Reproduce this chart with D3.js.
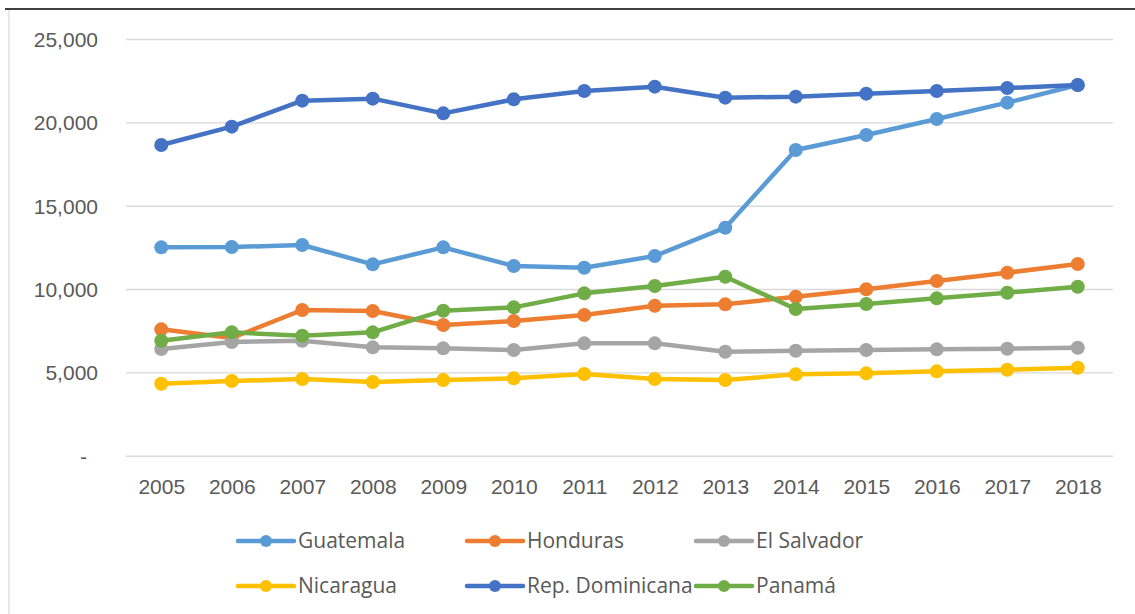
<!DOCTYPE html>
<html>
<head>
<meta charset="utf-8">
<script src="https://cdn.jsdelivr.net/npm/d3@7"></script>
<style>
  body { margin: 0; background: #fff; }
  svg { display: block; font-family: "Open Sans", "Noto Sans", sans-serif; }
</style>
</head>
<body>
<svg id="chart" width="1135" height="614"></svg>
<script>
// data
const years = [2005, 2006, 2007, 2008, 2009, 2010, 2011, 2012, 2013, 2014, 2015, 2016, 2017, 2018];
const yTicks = [0, 5000, 10000, 15000, 20000, 25000];

const guatemala = [12500, 12520, 12640, 11480, 12500, 11380, 11280, 11980, 13680, 18340, 19240, 20200, 21180, 22240];
const honduras = [7580, 7060, 8740, 8680, 7840, 8080, 8440, 9000, 9080, 9540, 9980, 10480, 10980, 11500];
const elSalvador = [6400, 6820, 6900, 6500, 6440, 6340, 6740, 6740, 6240, 6300, 6340, 6380, 6420, 6480];
const nicaragua = [4320, 4480, 4600, 4420, 4540, 4640, 4900, 4600, 4540, 4880, 4940, 5060, 5160, 5280];
const repDominicana = [18640, 19740, 21300, 21420, 20540, 21380, 21880, 22140, 21480, 21540, 21720, 21880, 22060, 22240];
const panama = [6900, 7400, 7200, 7400, 8700, 8900, 9740, 10180, 10740, 8800, 9100, 9440, 9780, 10140];

const seriesNames = ["Guatemala", "Honduras", "El Salvador", "Nicaragua", "Rep. Dominicana", "Panamá"];
const seriesValues = [guatemala, honduras, elSalvador, nicaragua, repDominicana, panama];
const seriesColors = ["#5B9BD5", "#ED7D31", "#A5A5A5", "#FFC000", "#4472C4", "#70AD47"];

const svg = d3.select("#chart");
const textColor = "#595959";

// frame lines from the original screenshot
svg.append("line")
  .attr("x1", 5).attr("x2", 1135).attr("y1", 9).attr("y2", 9)
  .attr("stroke", "#000").attr("stroke-width", 1.5);
svg.append("line")
  .attr("x1", 9).attr("x2", 9).attr("y1", 10).attr("y2", 614)
  .attr("stroke", "#d9d9d9").attr("stroke-width", 1.2);

const plot = {left: 126, right: 1113, top: 39, bottom: 455.7};

const x = d3.scalePoint()
  .domain(years)
  .range([plot.left, plot.right])
  .padding(0.5);

const y = d3.scaleLinear()
  .domain([0, 25000])
  .range([plot.bottom, plot.top]);

// gridlines + y labels
const yAxis = d3.axisLeft(y)
  .tickValues(yTicks)
  .tickSize(-(plot.right - plot.left))
  .tickPadding(28)
  .tickFormat(d => d === 0 ? "-" : d3.format(",")(d));

const gy = svg.append("g")
  .attr("transform", "translate(" + plot.left + ",0)")
  .call(yAxis);
gy.select(".domain").remove();
gy.selectAll(".tick line").attr("stroke", "#d9d9d9").attr("stroke-width", 1.4);
gy.selectAll(".tick text")
  .attr("fill", textColor)
  .style("font-size", "21px")
  .attr("dy", "0.35em")
  .attr("dx", d => d === 0 ? -11 : 0);

// x labels
const xAxis = d3.axisBottom(x).tickSize(0).tickPadding(0);
const gx = svg.append("g")
  .attr("transform", "translate(0," + 487 + ")")
  .call(xAxis);
gx.select(".domain").remove();
gx.selectAll(".tick text")
  .attr("fill", textColor)
  .style("font-size", "21px")
  .attr("dy", "0.35em");

// lines and markers
const line = d3.line()
  .x((d, i) => x(years[i]))
  .y(d => y(d));

seriesValues.forEach((vals, k) => {
  const g = svg.append("g");
  g.append("path")
    .datum(vals)
    .attr("fill", "none")
    .attr("stroke", seriesColors[k])
    .attr("stroke-width", 4.5)
    .attr("stroke-linejoin", "round")
    .attr("d", line);
  g.selectAll("circle")
    .data(vals)
    .enter().append("circle")
    .attr("cx", (d, i) => x(years[i]))
    .attr("cy", d => y(d))
    .attr("r", 7)
    .attr("fill", seriesColors[k]);
});

// legend, 3 per row
const legendX = [238, 467, 696];
const legendY = [541, 586];
seriesNames.forEach((name, k) => {
  const lx = legendX[k % 3];
  const ly = legendY[Math.floor(k / 3)];
  const g = svg.append("g").attr("transform", "translate(" + lx + "," + ly + ")");
  g.append("line")
    .attr("x1", 0).attr("x2", 56)
    .attr("stroke", seriesColors[k])
    .attr("stroke-width", 4.5)
    .attr("stroke-linecap", "round");
  g.append("circle")
    .attr("cx", 28).attr("r", 6)
    .attr("fill", seriesColors[k]);
  g.append("text")
    .attr("x", 60)
    .attr("dy", "0.35em")
    .attr("fill", textColor)
    .style("font-size", "21px")
    .text(name);
});
</script>
</body>
</html>
